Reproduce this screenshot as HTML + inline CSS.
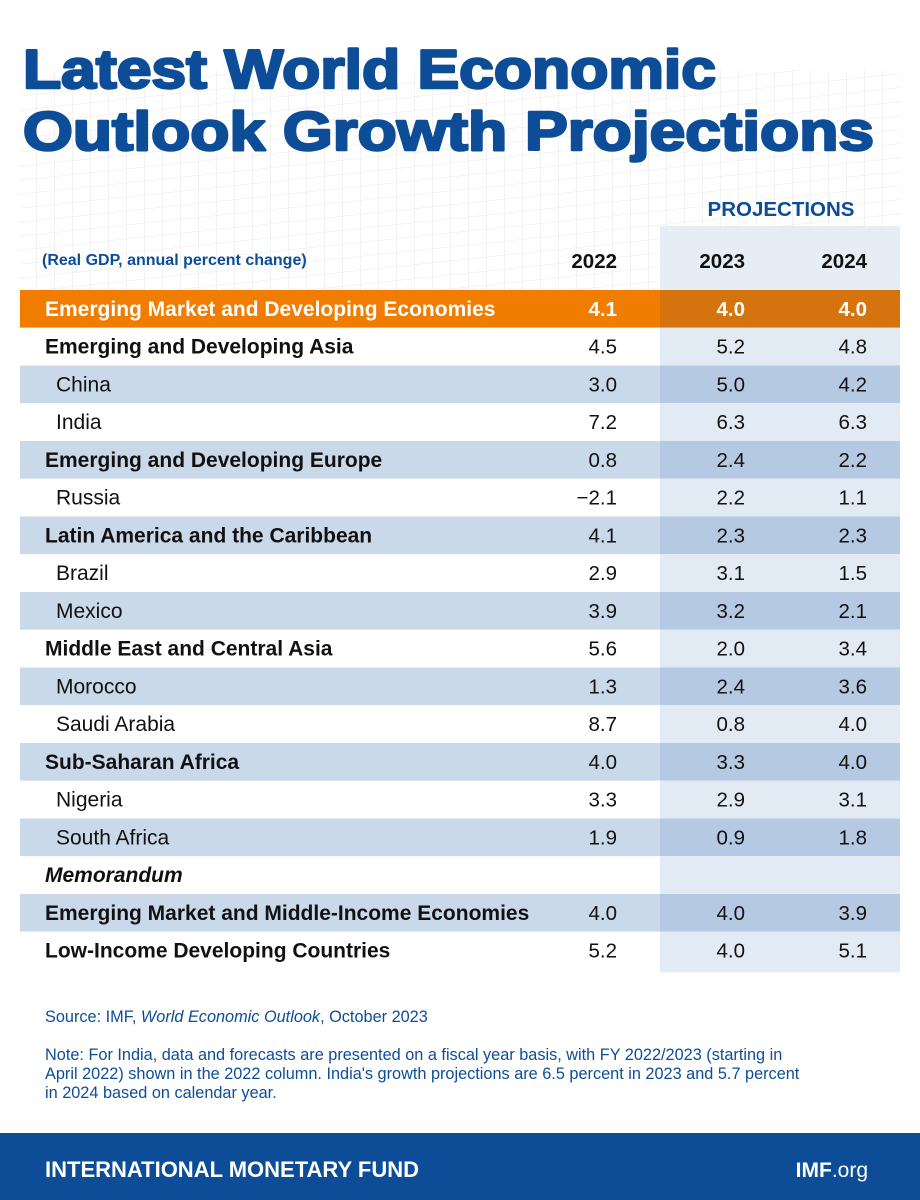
<!DOCTYPE html>
<html><head><meta charset="utf-8"><style>
body{margin:0;background:#fff;}
#wrap{position:relative;width:920px;height:1200px;overflow:hidden;font-family:"Liberation Sans",sans-serif;background:#fff;}
.abs{position:absolute;}
</style></head><body>
<div id="wrap">
<svg class="abs" style="left:0;top:0" width="920" height="1200" id="svg">
<defs>
<pattern id="mesh" width="18" height="14" patternUnits="userSpaceOnUse" patternTransform="skewY(-6)">
<path d="M0 0H18M0 0V14" stroke="#d8d8d8" stroke-width="0.8" fill="none"/>
</pattern>
</defs>
<rect x="20" y="70" width="880" height="260" fill="url(#mesh)" opacity="0.75"/>
<rect x="660" y="226" width="240" height="64" fill="#e2eaf3" opacity="0.85"/>
<text x="23" y="88" font-size="55" font-weight="bold" fill="#0d4d98" stroke="#0d4d98" stroke-width="2.5" stroke-linejoin="round" textLength="693" lengthAdjust="spacingAndGlyphs">Latest World Economic</text>
<text x="23" y="150" font-size="55" font-weight="bold" fill="#0d4d98" stroke="#0d4d98" stroke-width="2.5" stroke-linejoin="round" textLength="851" lengthAdjust="spacingAndGlyphs">Outlook Growth Projections</text>
<text x="781" y="216" font-size="20.5" font-weight="bold" fill="#0d4d98" text-anchor="middle">PROJECTIONS</text>
<text x="42" y="265" font-size="16" font-weight="bold" fill="#0d4d98">(Real GDP, annual percent change)</text>
<g id="table"></g>
<text x="45" y="1022" font-size="16.3" fill="#0d4d98">Source: IMF, <tspan font-style="italic">World Economic Outlook</tspan>, October 2023</text>
<text font-size="16.3" fill="#0d4d98">
<tspan x="45" y="1060">Note: For India, data and forecasts are presented on a fiscal year basis, with FY 2022/2023 (starting in</tspan>
<tspan x="45" y="1079">April 2022) shown in the 2022 column. India's growth projections are 6.5 percent in 2023 and 5.7 percent</tspan>
<tspan x="45" y="1098">in 2024 based on calendar year.</tspan>
</text>
<rect x="0" y="1133" width="920" height="67" fill="#0d4d98"/>
<text x="45" y="1177" font-size="22" font-weight="bold" fill="#fff">INTERNATIONAL MONETARY FUND</text>
<text x="868" y="1177" font-size="21" fill="#fff" text-anchor="end"><tspan font-weight="bold">IMF</tspan>.org</text>
</svg>
</div>
<script>
const years = ["2022","2023","2024"];
const labels = ["Emerging Market and Developing Economies","Emerging and Developing Asia","China","India","Emerging and Developing Europe","Russia","Latin America and the Caribbean","Brazil","Mexico","Middle East and Central Asia","Morocco","Saudi Arabia","Sub-Saharan Africa","Nigeria","South Africa","Memorandum","Emerging Market and Middle-Income Economies","Low-Income Developing Countries"];
const rowLevels = [0,0,1,1,0,1,0,1,1,0,1,1,0,1,1,2,0,0];
const values2022 = ["4.1","4.5","3.0","7.2","0.8","\u22122.1","4.1","2.9","3.9","5.6","1.3","8.7","4.0","3.3","1.9","","4.0","5.2"];
const values2023 = ["4.0","5.2","5.0","6.3","2.4","2.2","2.3","3.1","3.2","2.0","2.4","0.8","3.3","2.9","0.9","","4.0","4.0"];
const values2024 = ["4.0","4.8","4.2","6.3","2.2","1.1","2.3","1.5","2.1","3.4","3.6","4.0","4.0","3.1","1.8","","3.9","5.1"];

const NS="http://www.w3.org/2000/svg";
const g=document.getElementById('table');
const top0=290, rh=37.75;
const rowY=i=>top0+i*rh;
const colX=[617,745,867];
function mk(t,a){const e=document.createElementNS(NS,t);for(const k in a)e.setAttribute(k,a[k]);return e;}
years.forEach((y,j)=>{
  const t=mk('text',{x:colX[j],y:268,'font-size':20.5,'font-weight':'bold','text-anchor':'end',fill:'#111'});
  
  
  t.textContent=y;g.appendChild(t);
});
labels.forEach((lab,i)=>{
  const y=rowY(i);
  const shaded = i>0 && (i%2===0);
  let bg = i===0 ? '#f07d00' : (shaded ? '#c9d9ea' : '#ffffff');
  let pbg = i===0 ? '#d5730f' : (shaded ? '#b5c9e2' : '#e2eaf3');
  const r=mk('rect',{x:20,y:y,width:880,height:rh,fill:bg});
  
  
  g.appendChild(r);
  const pr=mk('rect',{x:660,y:y,width:240,height:rh,fill:pbg});
  
  
  g.appendChild(pr);
  const lv=rowLevels[i];
  const tc=i===0?'#fff':'#111';
  const t=mk('text',{x:lv===1?56:45,y:y+rh/2+7,'font-size':21,fill:tc,'font-weight':lv===1?'normal':'bold'});
  if(lv===2)t.setAttribute('font-style','italic');
  
  
  t.textContent=lab;g.appendChild(t);
  [values2022,values2023,values2024].forEach((arr,j)=>{
    if(!arr[i])return;
    const v=mk('text',{x:colX[j],y:y+rh/2+7,'font-size':20.5,'font-weight':i===0?'bold':'normal','text-anchor':'end',fill:tc});
    
    
    v.textContent=arr[i];g.appendChild(v);
  });
});
const last=mk('rect',{x:660,y:rowY(labels.length),width:240,height:3,fill:'#e2eaf3'});


g.appendChild(last);
</script>
</body></html>
